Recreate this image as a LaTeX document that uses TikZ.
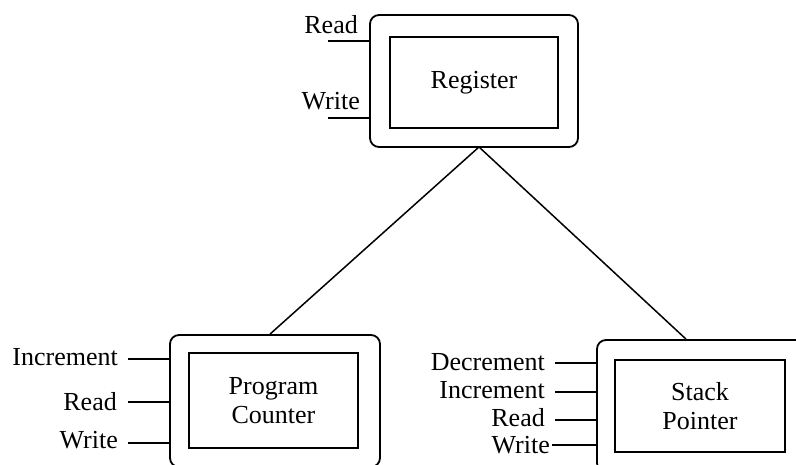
\documentclass[tikz,border=0pt]{standalone}
\usepackage{fontspec}
\setmainfont{Liberation Serif}
\begin{document}
\begin{tikzpicture}[x=1pt,y=-1pt,
  outerbox/.style={draw, line width=1.8pt, rounded corners=9pt, inner sep=0pt},
  innerbox/.style={draw, line width=1.6pt, inner sep=0pt, align=center, font=\fontsize{26}{29}\selectfont},
  lbl/.style={font=\fontsize{26}{29}\selectfont, inner sep=0pt},
  wire/.style={line width=1.5pt}]
\useasboundingbox (0,0) rectangle (796,465);
\clip (0,0) rectangle (796,465);
% Register
\node[outerbox, minimum width=208pt, minimum height=132pt] (reg) at (474,81) {};
\node[innerbox, minimum width=168pt, minimum height=91pt] (regin) at (474,82.5) {Register};
% Program Counter
\node[outerbox, minimum width=210pt, minimum height=132pt] (pc) at (275,401) {};
\node[innerbox, minimum width=169pt, minimum height=95pt] (pcin) at (273.5,400.5) {Program\\Counter};
% Stack Pointer
\node[outerbox, minimum width=212pt, minimum height=132pt] (sp) at (703,406) {};
\node[innerbox, minimum width=170pt, minimum height=92pt] (spin) at (700,406) {Stack\\Pointer};
% connectors
\coordinate (regb) at (479,147);
\draw[wire] (regb) -- (pc.north -| 270,0);
\draw[wire] (regb) -- (sp.north -| 686,0);
% Register inputs
\coordinate (r1) at (328,41);
\coordinate (r2) at (328,118);
\draw[wire] (r1) -- (reg.west |- r1);
\draw[wire] (r2) -- (reg.west |- r2);
\node[lbl, anchor=east] (tr1) at (358,25) {Read};
\node[lbl, anchor=east] (tr2) at (360,101) {Write};
% PC inputs
\node[lbl, anchor=east] (p1) at (118,357) {Increment};
\node[lbl, anchor=east] (p2) at (117,402) {Read};
\node[lbl, anchor=east] (p3) at (118,440) {Write};
\coordinate (pa) at (128,359);
\coordinate (pb) at (128,402);
\coordinate (pcc) at (128,443);
\draw[wire] (pa) -- (pc.west |- pa);
\draw[wire] (pb) -- (pc.west |- pb);
\draw[wire] (pcc) -- (pc.west |- pcc);
% SP inputs
\node[lbl, anchor=east] (s1) at (545,362) {Decrement};
\node[lbl, anchor=east] (s2) at (545,390) {Increment};
\node[lbl, anchor=east] (s3) at (545,418) {Read};
\node[lbl, anchor=east] (s4) at (550,445) {Write};
\coordinate (sa) at (555,363);
\coordinate (sb) at (555,392);
\coordinate (sc) at (555,420);
\coordinate (sd) at (552,445);
\draw[wire] (sa) -- (sp.west |- sa);
\draw[wire] (sb) -- (sp.west |- sb);
\draw[wire] (sc) -- (sp.west |- sc);
\draw[wire] (sd) -- (sp.west |- sd);
\end{tikzpicture}
\end{document}
